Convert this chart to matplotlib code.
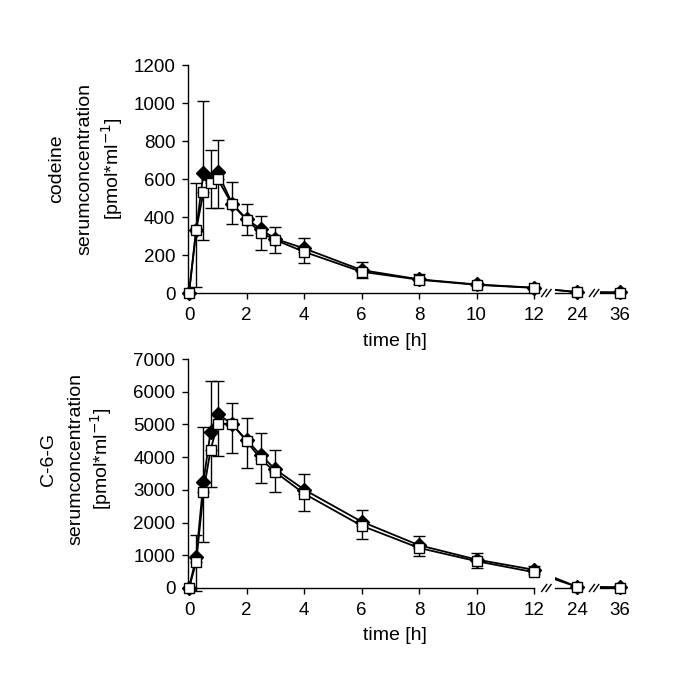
import numpy as np
import matplotlib.pyplot as plt
from matplotlib.patches import Rectangle
from matplotlib.transforms import blended_transform_factory

plt.rcParams['font.family'] = ['Liberation Sans', 'DejaVu Sans']

# sampling times [h]
hours = [0, 0.25, 0.5, 0.75, 1, 1.5, 2, 2.5, 3, 4, 6, 8, 10, 12, 24, 36]
xtick_hours = [0, 2, 4, 6, 8, 10, 12, 24, 36]

# codeine (filled diamonds / open squares)
cod_fill = [0, 332, 630, 598, 635, 470, 390, 335, 285, 235, 121, 72, 45, 28, 5, 3]
cod_open = [0, 332, 530, 577, 598, 466, 386, 317, 279, 217, 112, 70, 43, 27, 4, 2]
cod_up = [0, 248, 380, 154, 170, 112, 78, 72, 64, 53, 40, 26, 5, 4, 0, 0]
cod_lo = [0, 300, 250, 128, 152, 105, 81, 91, 70, 57, 35, 23, 5, 4, 0, 0]

# C-6-G
c6g_fill = [0, 946, 3235, 4782, 5330, 5000, 4525, 4061, 3628, 3010, 2030, 1308, 870, 557, 40, 20]
c6g_open = [0, 792, 2926, 4225, 5020, 5020, 4490, 3937, 3545, 2886, 1905, 1225, 820, 483, 35, 15]
c6g_up = [0, 671, 1682, 1548, 1000, 640, 671, 671, 597, 485, 360, 288, 200, 111, 0, 0]
c6g_lo = [0, 892, 1516, 1132, 980, 897, 810, 721, 607, 526, 402, 257, 214, 50, 0, 0]

# broken time axis: 24 h and 36 h squeezed in after 12 h
late_pos = {24: 13.5, 36: 15.0}


def xpos(tt):
    return np.array([t if t <= 12 else late_pos[t] for t in tt], dtype=float)


W, H = 685, 692
fig = plt.figure(figsize=(W / 100, H / 100), dpi=100)
ax1 = fig.add_axes([188 / W, (H - 293) / H, 438 / W, 228 / H])
ax2 = fig.add_axes([188 / W, (H - 588) / H, 438 / W, 229 / H])

gaps = [(12.2, 12.73), (13.72, 14.3)]
axis_bits = [(12.73, 13.62), (14.3, 15.17)]
slashes = [12.43, 14.09]


def panel(ax, fill, opn, up, lo, ymax, ystep):
    x = xpos(hours)
    fill = np.array(fill, float)
    opn = np.array(opn, float)
    up = np.array(up, float)
    lo = np.array(lo, float)
    ax.set_xlim(-0.035, 15.2)
    ax.set_ylim(0, ymax)

    ax.plot(x, fill, color='black', lw=1.3, zorder=2, clip_on=False)
    ax.plot(x, opn, color='black', lw=1.3, zorder=2, clip_on=False)

    # white out the lines in the axis breaks
    tr = blended_transform_factory(ax.transData, ax.transAxes)
    for a, b in gaps:
        ax.add_patch(Rectangle((a, -0.03), b - a, 1.06, transform=tr,
                               fc='white', ec='none', zorder=2.2, clip_on=False))

    m = up > 0
    eb = ax.errorbar(x[m], fill[m], yerr=[np.zeros(m.sum()), up[m]], fmt='none',
                     ecolor='black', elinewidth=1, capsize=4, capthick=1, zorder=2.4)
    m = lo > 0
    eb2 = ax.errorbar(x[m], opn[m], yerr=[lo[m], np.zeros(m.sum())], fmt='none',
                      ecolor='black', elinewidth=1, capsize=4, capthick=1, zorder=2.4)
    for c in (eb, eb2):
        for art in c.get_children():
            art.set_clip_on(False)

    ax.plot(x, fill, ls='none', marker='D', ms=7.5, mfc='black', mec='black',
            zorder=3, clip_on=False)
    ax.plot(x, opn, ls='none', marker='s', ms=6.5, mfc='white', mec='black', mew=1,
            zorder=3.2, clip_on=False)

    for s in ('top', 'right'):
        ax.spines[s].set_visible(False)
    ax.spines['left'].set_bounds(0, ymax)
    ax.spines['bottom'].set_bounds(0, 12)
    for s in ('left', 'bottom'):
        ax.spines[s].set_linewidth(1)

    for a, b in axis_bits:
        ax.plot([a, b], [0, 0], color='black', lw=1, zorder=2.5, clip_on=False)

    # "//" break marks
    px = 15.235 / 438
    py = ymax / ax.get_position().height / H
    for xc in slashes:
        for dx in (-2.2, 2.2):
            ax.plot([xc + (dx - 2.5) * px, xc + (dx + 2.5) * px],
                    [-3.5 * py, 3.5 * py], color='black', lw=1,
                    zorder=2.6, clip_on=False)

    ax.set_xticks(xpos(xtick_hours))
    ax.set_xticklabels([str(t) for t in xtick_hours])
    ax.set_yticks(np.arange(0, ymax + 1, ystep))
    ax.tick_params(direction='out', length=4, width=1, labelsize=13.5, pad=5)
    ax.tick_params(axis='x', pad=6)


panel(ax1, cod_fill, cod_open, cod_up, cod_lo, 1200, 200)
panel(ax2, c6g_fill, c6g_open, c6g_up, c6g_lo, 7000, 1000)

# axis titles
for y in (342, 636):
    fig.text(395 / W, (H - y) / H, 'time [h]', ha='center', va='center', fontsize=14)

top_lines = [('codeine', 57), ('serumconcentration', 85), ('[pmol*ml$^{-1}$]', 112)]
bot_lines = [('C-6-G', 48), ('serumconcentration', 76), ('[pmol*ml$^{-1}$]', 101)]
for txt, xx in top_lines:
    fig.text(xx / W, (H - 169) / H, txt, rotation=90, ha='center', va='center', fontsize=14)
for txt, xx in bot_lines:
    fig.text(xx / W, (H - 459) / H, txt, rotation=90, ha='center', va='center', fontsize=14)

fig.savefig('out.png', dpi=100)
